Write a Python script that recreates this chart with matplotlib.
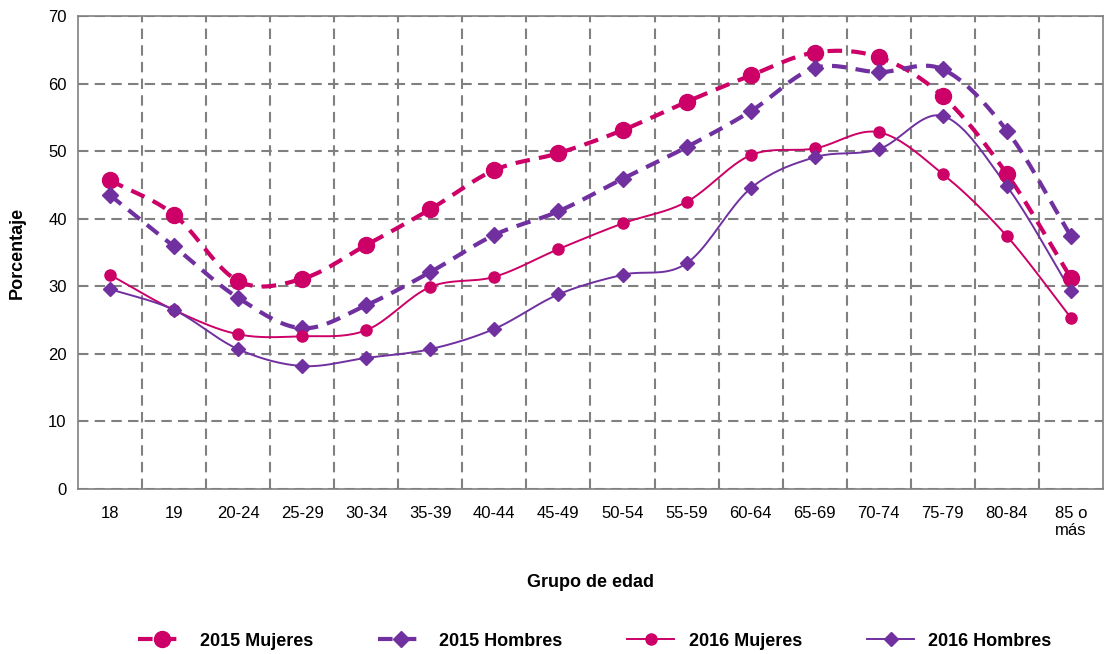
import numpy as np
import matplotlib.pyplot as plt

plt.rcParams['font.family'] = ['Liberation Sans', 'DejaVu Sans']

# Datos
grupos = ['18', '19', '20-24', '25-29', '30-34', '35-39', '40-44', '45-49',
          '50-54', '55-59', '60-64', '65-69', '70-74', '75-79', '80-84', '85 o\nmás']
mujeres_2015 = [45.7, 40.6, 30.8, 31.1, 36.1, 41.4, 47.2, 49.7,
                53.1, 57.3, 61.2, 64.6, 63.9, 58.1, 46.6, 31.2]
hombres_2015 = [43.5, 35.9, 28.3, 23.8, 27.2, 32.1, 37.6, 41.1,
                45.9, 50.6, 55.9, 62.3, 61.7, 62.1, 53.0, 37.4]
mujeres_2016 = [31.7, 26.5, 22.9, 22.6, 23.5, 29.9, 31.4, 35.5,
                39.3, 42.5, 49.4, 50.4, 52.8, 46.6, 37.4, 25.3]
hombres_2016 = [29.6, 26.5, 20.7, 18.2, 19.4, 20.7, 23.7, 28.8,
                31.7, 33.4, 44.5, 49.1, 50.3, 55.2, 44.8, 29.3]

rosa = '#CC0066'
morado = '#7030A0'


# Suavizado tipo Excel (Catmull-Rom) solo para el trazo
def suavizar(x, y, n=20):
    x = np.asarray(x, float)
    y = np.asarray(y, float)
    px = np.concatenate([[2 * x[0] - x[1]], x, [2 * x[-1] - x[-2]]])
    py = np.concatenate([[2 * y[0] - y[1]], y, [2 * y[-1] - y[-2]]])
    t = np.linspace(0, 1, n, endpoint=False)
    xs, ys = [], []
    for i in range(1, len(px) - 2):
        for p, out in ((px, xs), (py, ys)):
            p0, p1, p2, p3 = p[i - 1], p[i], p[i + 1], p[i + 2]
            out.extend(0.5 * (2 * p1 + (-p0 + p2) * t
                              + (2 * p0 - 5 * p1 + 4 * p2 - p3) * t ** 2
                              + (-p0 + 3 * p1 - 3 * p2 + p3) * t ** 3))
    xs.append(x[-1])
    ys.append(y[-1])
    return np.array(xs), np.array(ys)


fig = plt.figure(figsize=(11.12, 6.54), dpi=100)
ax = fig.add_axes([0.070, 0.2523, 0.922, 0.7232])

x = np.arange(len(grupos))
series = [
    ('2015 Mujeres', mujeres_2015, rosa, 'o', 11.5, 3.0, (0, (3.5, 2.2))),
    ('2015 Hombres', hombres_2015, morado, 'D', 8.5, 3.0, (0, (3.5, 2.2))),
    ('2016 Mujeres', mujeres_2016, rosa, 'o', 8, 1.4, '-'),
    ('2016 Hombres', hombres_2016, morado, 'D', 7, 1.4, '-'),
]
handles = []
for nombre, vals, color, marker, ms, lw, ls in series:
    xs, ys = suavizar(x, vals)
    ax.plot(xs, ys, color=color, lw=lw, linestyle=ls, zorder=3)
    ax.plot(x, vals, linestyle='none', marker=marker, ms=ms, color=color, zorder=4)
    h, = plt.plot([], [], color=color, lw=lw, linestyle=ls, marker=marker, ms=ms)
    handles.append(h)

ax.set_xlim(-0.5, len(grupos) - 0.5)
ax.set_ylim(0, 70)
ax.set_yticks(np.arange(0, 71, 10))
ax.set_xticks(x)
ax.set_xticklabels(grupos, fontsize=12)
ax.set_xticks(np.arange(0.5, len(grupos) - 0.5), minor=True)
ax.tick_params(axis='y', labelsize=12, length=0, pad=8)
ax.tick_params(axis='x', which='both', length=0, pad=12)

ax.grid(True, axis='y', which='major', color='#808080', lw=1.5, linestyle=(0, (5, 3)))
ax.grid(True, axis='x', which='minor', color='#808080', lw=1.5, linestyle=(0, (5, 3)))
ax.set_axisbelow(True)
for s in ax.spines.values():
    s.set_color('#808080')
    s.set_linewidth(1.2)

ax.set_ylabel('Porcentaje', fontsize=13, fontweight='bold', labelpad=16)
ax.set_xlabel('Grupo de edad', fontsize=13, fontweight='bold', labelpad=26)

fig.legend(handles, [s[0] for s in series], loc='lower center',
           bbox_to_anchor=(0.535, -0.018), ncol=4, frameon=False,
           prop={'size': 13, 'weight': 'bold'}, handlelength=2.6,
           columnspacing=3.6, handletextpad=0.8)

plt.savefig('out.png', dpi=100)
